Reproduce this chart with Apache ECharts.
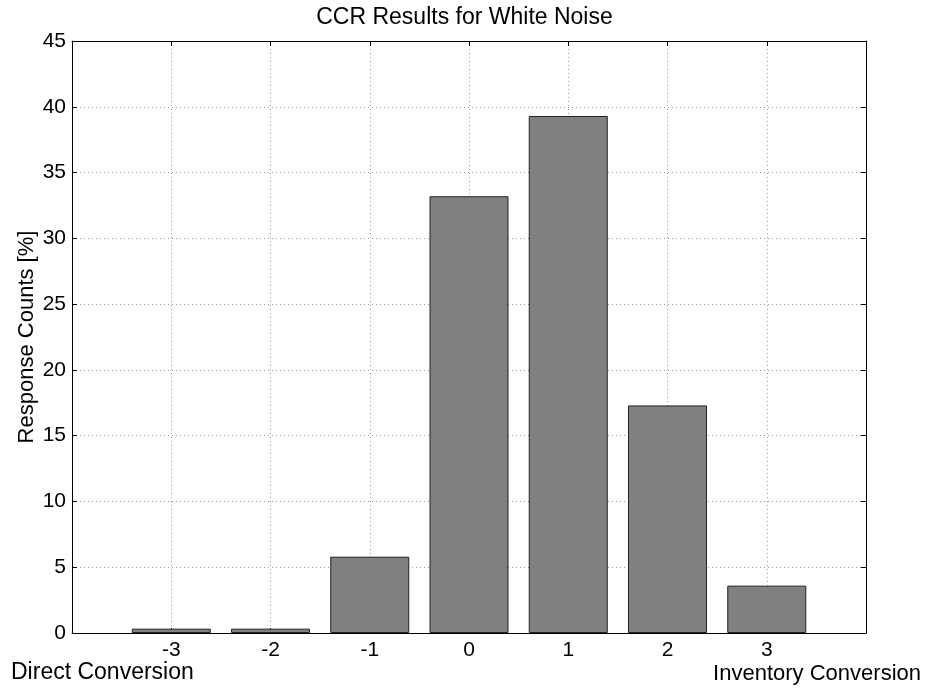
<!DOCTYPE html>
<html>
<head>
<meta charset="utf-8">
<script src="https://cdn.jsdelivr.net/npm/echarts@6/dist/echarts.min.js"></script>
<style>html,body{margin:0;padding:0;background:#fff}#c{width:929px;height:689px}</style>
</head>
<body>
<div id="c"></div>
<script>
const categories = [-3, -2, -1, 0, 1, 2, 3];
const values = [0.33, 0.33, 5.8, 33.2, 39.3, 17.3, 3.6];
const yTicks = [0, 5, 10, 15, 20, 25, 30, 35, 40, 45];
const titleText = 'CCR Results for White Noise';
const yName = 'Response Counts [%]';
const leftNote = 'Direct Conversion';
const rightNote = 'Inventory Conversion';

const chart = echarts.init(document.getElementById('c'));
const font = 'Liberation Sans, Arial, sans-serif';
const gridLine = { show: true, lineStyle: { color: '#999', type: [1, 3], width: 1 } };
const showLabels = new Set(categories);
chart.setOption({
  animation: false,
  title: { text: titleText, left: 'center', top: 1, textStyle: { fontFamily: font, fontSize: 23, fontWeight: 'normal', color: '#000' } },
  grid: { left: 72, right: 63, top: 41, bottom: 56, containLabel: false, outerBoundsMode: 'none' },
  xAxis: [{
    type: 'value', min: -4, max: 4, interval: 1,
    axisLine: { show: true, onZero: false, lineStyle: { color: '#000' } },
    axisTick: { show: true, inside: true, length: 5, lineStyle: { color: '#000' } },
    axisLabel: { fontFamily: font, fontSize: 21, color: '#000', margin: 7,
      formatter: v => showLabels.has(v) ? String(v) : '' },
    splitLine: gridLine
  }, {
    type: 'value', position: 'top', min: -4, max: 4, interval: 1,
    axisLine: { show: true, onZero: false, lineStyle: { color: '#000' } },
    axisTick: { show: true, inside: true, length: 5, lineStyle: { color: '#000' } },
    axisLabel: { show: false }, splitLine: { show: false }
  }],
  yAxis: [{
    type: 'value', min: yTicks[0], max: yTicks[yTicks.length - 1], interval: 5,
    name: yName, nameLocation: 'middle', nameGap: 34, nameMoveOverlap: false,
    nameTextStyle: { fontFamily: font, fontSize: 22, color: '#000' },
    axisLine: { show: true, onZero: false, lineStyle: { color: '#000' } },
    axisTick: { show: true, inside: true, length: 5, lineStyle: { color: '#000' } },
    axisLabel: { fontFamily: font, fontSize: 21, color: '#000', margin: 6 },
    splitLine: gridLine
  }, {
    type: 'value', position: 'right', min: yTicks[0], max: yTicks[yTicks.length - 1], interval: 5,
    axisLine: { show: true, onZero: false, lineStyle: { color: '#000' } },
    axisTick: { show: true, inside: true, length: 5, lineStyle: { color: '#000' } },
    axisLabel: { show: false }, splitLine: { show: false }
  }],
  series: [{
    type: 'bar', xAxisIndex: 0, yAxisIndex: 0, barWidth: 79,
    data: categories.map((c, i) => [c, values[i]]),
    itemStyle: { color: '#808080', borderColor: '#222', borderWidth: 1 },
    z: 3
  }],
  graphic: [
    { type: 'text', x: 11, y: 673, style: { text: leftNote, font: '23px ' + font, fill: '#000', textVerticalAlign: 'middle', verticalAlign: 'middle' } },
    { type: 'text', x: 921, y: 674, style: { text: rightNote, font: '22px ' + font, fill: '#000', textAlign: 'right', align: 'right', textVerticalAlign: 'middle', verticalAlign: 'middle' } }
  ]
});
</script>
</body>
</html>
